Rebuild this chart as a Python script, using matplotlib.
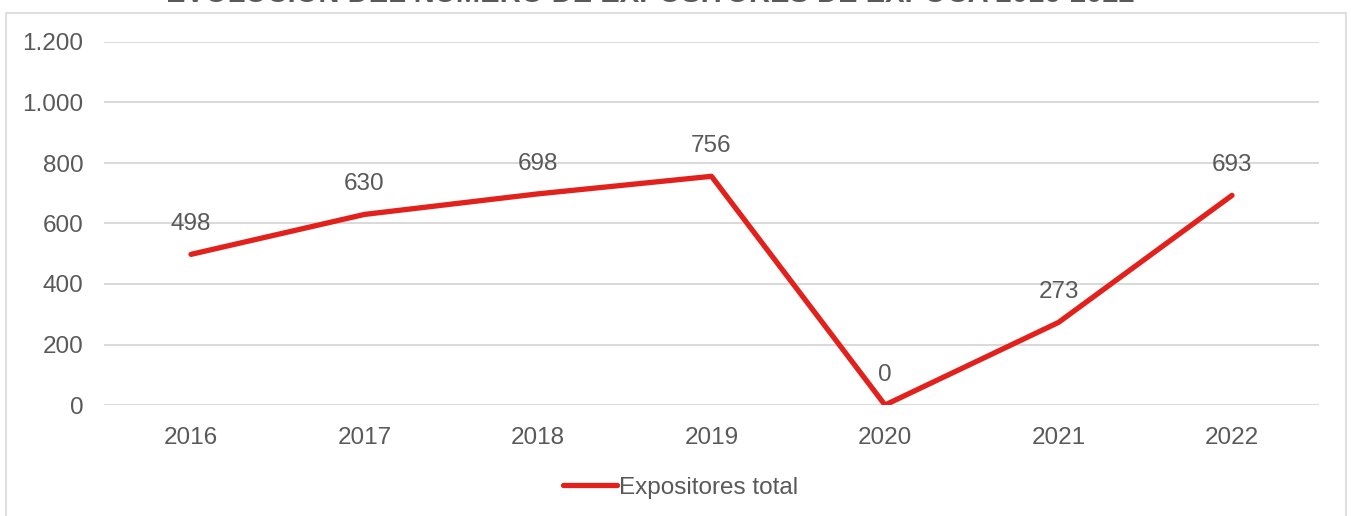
import matplotlib
matplotlib.use("Agg")
import matplotlib.pyplot as plt
from matplotlib.patches import Rectangle

years = ["2016", "2017", "2018", "2019", "2020", "2021", "2022"]
expositores = [498, 630, 698, 756, 0, 273, 693]
yticks = [0, 200, 400, 600, 800, 1000, 1200]
ytick_labels = ["0", "200", "400", "600", "800", "1.000", "1.200"]
title = "EVOLUCIÓN DEL NÚMERO DE EXPOSITORES DE EXPOCA 2016-2022"
series_name = "Expositores total"

plt.rcParams['font.family'] = ['Liberation Sans', 'DejaVu Sans']
TXT = "#595959"
RED = "#E3211C"
GRID = "#D9D9D9"
FS = 17.5

W, H = 1351, 516
fig = plt.figure(figsize=(W / 100, H / 100), dpi=100)
fig.patch.set_facecolor("white")

# outer chart border
fig.patches.append(Rectangle((6 / W, -0.05), (1346 - 6) / W, 1.05 - 12.5 / H,
                             transform=fig.transFigure, fill=False,
                             edgecolor=GRID, linewidth=1.2))

ax = fig.add_axes([104.25 / W, (H - 405) / H, (1318.75 - 104.25) / W, (405 - 42) / H])
x = list(range(len(years)))
line, = ax.plot(x, expositores, color=RED, linewidth=3.8, solid_capstyle="round",
                solid_joinstyle="round", label=series_name, zorder=3)
ax.set_xlim(-0.5, len(years) - 0.5)
ax.set_ylim(0, 1200)
ax.set_yticks(yticks)
ax.set_yticklabels(ytick_labels)
ax.set_xticks(x)
ax.set_xticklabels(years)
ax.tick_params(axis="both", length=0, labelsize=FS, colors=TXT)
ax.tick_params(axis="y", pad=15)
ax.tick_params(axis="x", pad=15.5)
ax.grid(axis="y", color=GRID, linewidth=1.4)
ax.set_axisbelow(True)
for s in ax.spines.values():
    s.set_visible(False)

for xi, v in zip(x, expositores):
    ax.annotate(f"{v}", (xi, v), xytext=(0, 30), textcoords="offset pixels",
                ha="center", va="center", fontsize=FS, color=TXT)

fig.text(650 / W, 1 - 1.5 / H, title, ha="center", va="baseline",
         fontsize=21, fontweight="bold", color=TXT)

leg = fig.legend(handles=[line], loc="center", bbox_to_anchor=(681 / W, 1 - 487.5 / H),
                 frameon=False, fontsize=FS, labelcolor=TXT, handlelength=2.2,
                 handletextpad=0.1)

fig.savefig("out.png", dpi=100)
